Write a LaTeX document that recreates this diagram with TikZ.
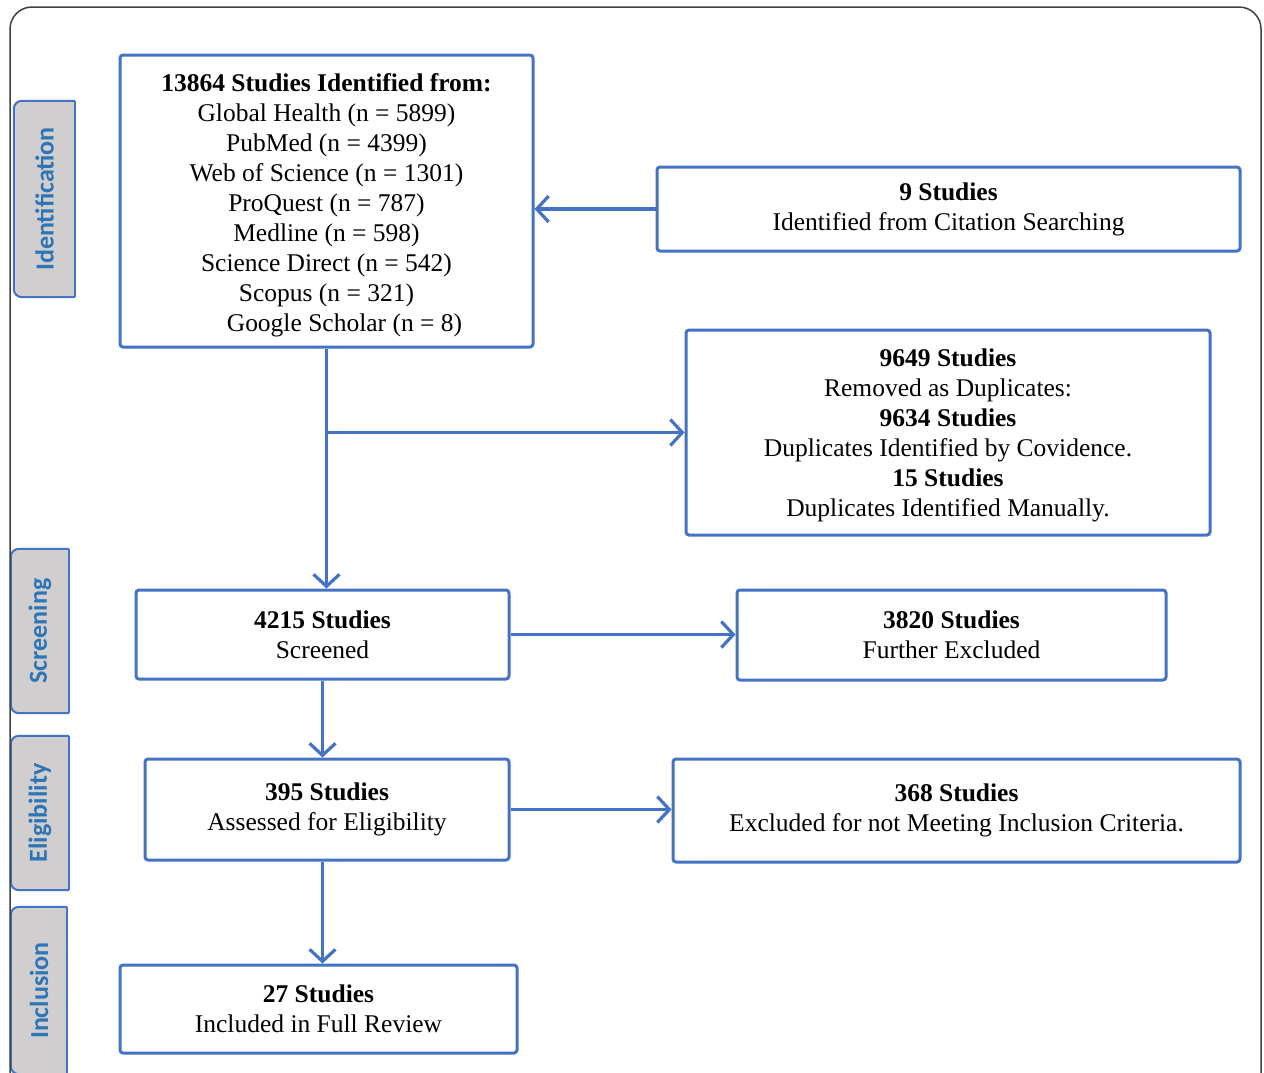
\documentclass[tikz,border=0pt]{standalone}
\usepackage{fontspec}
\setmainfont{Liberation Serif}
\newfontfamily\tabfont{Carlito}
\usetikzlibrary{arrows.meta,backgrounds}

\definecolor{flowblue}{HTML}{4472C4}
\definecolor{tabgray}{HTML}{D0CECE}
\definecolor{tabtext}{HTML}{2E75B6}
\definecolor{framegray}{HTML}{404040}

\tikzset{
  box/.style={draw=flowblue, line width=3pt, rounded corners=3pt, align=center,
    inner sep=0pt, font=\fontsize{25.5}{30}\selectfont},
  flow/.style={draw=flowblue, line width=3.5pt,
    -{Straight Barb[length=12pt,width=26pt,line width=3.2pt]}},
  tab/.style={inner sep=0pt, text=tabtext, font=\tabfont\bfseries\fontsize{26}{28}\selectfont},
  tabedge/.style={fill=tabgray, draw=flowblue, line width=2pt}
}

\begin{document}
\begin{tikzpicture}[x=1pt,y=-1pt]
\useasboundingbox (0,0) rectangle (1264,1072);

% outer frame, open at the bottom
\draw[framegray, line width=1.5pt, rounded corners=22pt] (10,1095) -- (10,7) -- (1261,7) -- (1261,1095);

% stage tabs
\node[tab, minimum width=61pt, minimum height=196pt] (idtab) at (44.5,199) {\rotatebox{90}{Identification}};
\node[tab, minimum width=58pt, minimum height=164pt] (sctab) at (40,631) {\rotatebox{90}{Screening}};
\node[tab, minimum width=58pt, minimum height=154pt] (eltab) at (40,813) {\rotatebox{90}{Eligibility}};
\node[tab, minimum width=56pt, minimum height=167pt] (intab) at (39,990.5) {\rotatebox{90}{Inclusion}};

\begin{scope}[on background layer]
\foreach \t in {idtab,sctab,eltab,intab} {
  \filldraw[tabedge, rounded corners=8pt] (\t.north east) -- (\t.north west) -- (\t.south west) -- (\t.south east);
  \draw[tabedge, fill=none] (\t.south east) -- (\t.north east);
}
\end{scope}

% boxes
\node[box, minimum width=413pt, minimum height=292pt] (src) at (326.5,201)
  {\rule{0pt}{26pt}\textbf{13864 Studies Identified from:}\\
   Global Health (n = 5899)\\
   PubMed (n = 4399)\\
   Web of Science (n = 1301)\\
   ProQuest (n = 787)\\
   Medline (n = 598)\\
   Science Direct (n = 542)\\
   Scopus (n = 321)\\
   \hspace*{36pt}Google Scholar (n = 8)};
\node[box, minimum width=583pt, minimum height=84pt] (cite) at (948.5,209)
  {\textbf{9 Studies}\\ Identified from Citation Searching};
\node[box, minimum width=524pt, minimum height=205pt] (dup) at (948,432.5)
  {\rule{0pt}{24pt}\textbf{9649 Studies}\\ Removed as Duplicates:\\
   \textbf{9634 Studies}\\ Duplicates Identified by Covidence.\\
   \textbf{15 Studies}\\ Duplicates Identified Manually.};
\node[box, minimum width=373pt, minimum height=89pt] (screen) at (322.5,634.5)
  {\textbf{4215 Studies}\\ Screened};
\node[box, minimum width=429pt, minimum height=90pt] (excl) at (951.5,635)
  {\textbf{3820 Studies}\\ Further Excluded};
\node[box, minimum width=364pt, minimum height=101pt] (elig) at (327,809.5)
  {\textbf{395 Studies}\\ Assessed for Eligibility};
\node[box, minimum width=567pt, minimum height=103pt] (crit) at (956.5,810.5)
  {\textbf{368 Studies}\\ Excluded for not Meeting Inclusion Criteria.};
\node[box, minimum width=397pt, minimum height=88pt] (incl) at (318.5,1009)
  {\textbf{27 Studies}\\ Included in Full Review};

% connectors
\draw[flow] (cite.west) -- (cite.west -| src.east);
\draw[flow] (src.south) -- (src.south |- screen.north);
\draw[flow] (src.south |- dup.west) -- (dup.west);
\draw[flow] (screen.east) -- (screen.east -| excl.west);
\draw[flow] (screen.south) -- (screen.south |- elig.north);
\draw[flow] (elig.east) -- (elig.east -| crit.west);
\draw[flow] (screen.south |- elig.south) -- (screen.south |- incl.north);
\end{tikzpicture}
\end{document}
